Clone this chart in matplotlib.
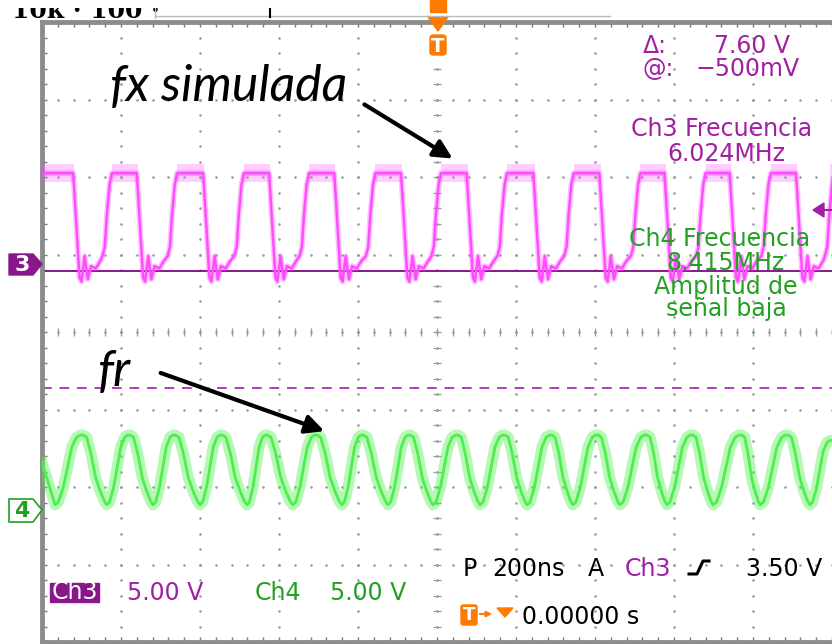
import numpy as np
import matplotlib
matplotlib.use("Agg")
from matplotlib import pyplot as plt
from matplotlib.patches import Polygon, Rectangle, FancyBboxPatch

# ---------------- datos leidos de la pantalla ----------------
# tiempo en ns (200 ns/div, disparo en 0), amplitud en divisiones (0 = centro)

# Ch3 (fx simulada): instantes de los flancos y niveles
ch3_subidas = [-833, -668, -499, -334, -166, 0, 167, 336, 505, 670, 835, 996]
ch3_bajadas = [-912, -751, -583, -416, -251, -82, 84, 253, 420, 585, 750, 918]
ch3_alto = 2.05
ch3_bajo = 0.80

# Ch4 (fr): picos y valles
ch4_picos = [-896, -777, -663, -544, -430, -304, -187, -68, 53, 172, 291, 408, 532, 648, 772, 889]
ch4_valles = [-967, -836, -719, -600, -481, -365, -241, -124, -10, 109, 228, 344, 463, 582, 699, 818, 944]
ch4_alto = -1.33
ch4_bajo = -2.23
ch4_inicio = -1.68
ch4_final = -1.40

# cursores (div)
cursor_a = 0.79
cursor_b = -0.72

# colores del osciloscopio
ROSA = "#ff4cff"
MORADO = "#a01fa3"
MORADO_OSC = "#8a168c"
VERDE = "#4def4d"
VERDE_TXT = "#22a022"
NARANJA = "#ff7a00"
GRIS = "#9a9a9a"
FS = 17


def forma_ch3():
    eventos = sorted([(t, 1) for t in ch3_subidas] + [(t, 0) for t in ch3_bajadas])
    xs, ys = [-1000], [ch3_alto]
    for t, sube in eventos:
        if sube:
            xs += [t - 14, t - 8, t - 3, t + 4, t + 10]
            ys += [ch3_bajo + 0.18, ch3_bajo + 0.3, ch3_bajo + 0.7, ch3_alto - 0.15, ch3_alto]
        else:
            xs += [t - 9, t + 7, t + 12, t + 20, t + 28, t + 36, t + 48, t + 60]
            ys += [ch3_alto, ch3_bajo - 0.1, ch3_bajo - 0.15, ch3_bajo + 0.18, ch3_bajo - 0.12,
                   ch3_bajo + 0.05, ch3_bajo + 0.02, ch3_bajo + 0.12]
    return xs, ys


def forma_ch4():
    eventos = sorted([(t, ch4_alto, 1) for t in ch4_picos] + [(t, ch4_bajo, 0) for t in ch4_valles])
    eventos.append((1000, ch4_final, 1))
    xs, ys = [-1000], [ch4_inicio]
    t0, y0 = -1000, ch4_inicio
    for t, y, pico in eventos:
        if t0 > -1000:
            if pico:
                fr, nv = [0.12, 0.3, 0.6, 0.77, 0.9], [0.04, 0.26, 0.83, 0.97, 1.0]
            else:
                fr, nv = [0.15, 0.33, 0.53, 0.73, 0.9], [0.03, 0.26, 0.61, 0.81, 0.95]
            for f, n in zip(fr, nv):
                xs.append(t0 + f * (t - t0))
                ys.append(y0 + n * (y - y0))
        xs.append(t)
        ys.append(y)
        t0, y0 = t, y
    return xs, ys


fig = plt.figure(figsize=(8.32, 6.44), dpi=100)
fig.patch.set_facecolor("white")

# pantalla del osciloscopio: 10 x 8 divisiones
ax = fig.add_axes([42 / 832, 2 / 644, 790 / 832, 620 / 644])
ax.set_xlim(-1000, 1000)
ax.set_ylim(-4, 4)
ax.set_xticks(np.arange(-1000, 1001, 40))
ax.set_yticks(np.arange(-4, 4.01, 0.2))
ax.tick_params(direction="in", length=3.5, width=1, color="#777777",
               labelleft=False, labelbottom=False, top=True, bottom=True, left=True, right=False)
for lado in ["left", "top", "bottom"]:
    ax.spines[lado].set_color("#8c8c8c")
    ax.spines[lado].set_linewidth(3.5)
ax.spines["right"].set_visible(False)

# reticula punteada
yy = np.arange(-4, 4.01, 0.2)
for xv in range(-800, 801, 200):
    ax.scatter(np.full_like(yy, xv), yy, s=3.5, color=GRIS, lw=0, zorder=1)
xx = np.arange(-1000, 1001, 40)
for yv in range(-3, 4):
    ax.scatter(xx, np.full_like(xx, yv, dtype=float), s=3.5, color=GRIS, lw=0, zorder=1)
ax.hlines(yy, -9, 9, color=GRIS, lw=0.9, zorder=1)
ax.vlines(xx, -0.05, 0.05, color=GRIS, lw=0.9, zorder=1)

# cursores
ax.axhline(cursor_a, color=MORADO_OSC, lw=1.4, zorder=2)
ax.axhline(cursor_b, color="#b03cc0", lw=1.4, ls=(0, (5, 4)), zorder=2)

# trazas
x3, y3 = forma_ch3()
ax.plot(x3, y3, color=ROSA, lw=4, alpha=0.35, zorder=3, solid_joinstyle="round")
ax.plot(x3, y3, color=ROSA, lw=1.8, zorder=4)
# ruido en la parte alta del Ch3
inicios = [-1000] + [t + 10 for t in ch3_subidas]
for a, b in zip(inicios, ch3_bajadas + [1000]):
    ax.fill_between([a, b - 6], ch3_alto - 0.12, ch3_alto + 0.12, color=ROSA, alpha=0.28, lw=0, zorder=3)
x4, y4 = forma_ch4()
ax.plot(x4, y4, color=VERDE, lw=8, alpha=0.4, zorder=3, solid_joinstyle="round")
ax.plot(x4, y4, color=VERDE, lw=2, zorder=4)

# cabecera recortada (solo se ve la parte baja del texto)
cab = fig.add_axes([0, 1 - 20 / 644, 160 / 832, 12 / 644])
cab.axis("off")
cab.set_xlim(0, 160)
cab.set_ylim(20, 8)
cab.text(12, 18, "10k · 100 · ·", fontsize=18, weight="bold", family="DejaVu Serif",
         va="baseline", clip_on=True)

# capa superior en pixeles para textos y marcadores
ov = fig.add_axes([0, 0, 1, 1], zorder=5)
ov.set_xlim(0, 832)
ov.set_ylim(644, 0)
ov.axis("off")


def txt(x, y, s, color="black", ha="left", **kw):
    ov.text(x, y, s, color=color, ha=ha, va="baseline", fontsize=FS,
            family="DejaVu Sans", **kw)


ov.plot([155, 610], [16, 16], color="#bbbbbb", lw=1)
ov.plot([155, 155], [8, 18], color="#bbbbbb", lw=1)
ov.plot([270, 270], [9, 17], color="black", lw=1.5)

# marcador de disparo arriba
ov.add_patch(Rectangle((430, 0), 16, 12, color=NARANJA))
ov.add_patch(Polygon([(428, 17), (448, 17), (438, 31)], color=NARANJA))
ov.add_patch(FancyBboxPatch((430, 35), 16, 20, boxstyle="round,pad=0,rounding_size=3", color=NARANJA))
ov.text(438, 46, "T", color="white", ha="center", va="center", fontsize=14, weight="bold")

# marcadores de canal a la izquierda
ov.add_patch(Polygon([(9, 254), (33, 254), (42, 264), (33, 275), (9, 275)], color=MORADO_OSC))
ov.text(22, 265, "3", color="white", ha="center", va="center", fontsize=16, weight="bold")
ov.add_patch(Polygon([(9, 499), (33, 499), (42, 510), (33, 522), (9, 522)], facecolor="white",
                     edgecolor=VERDE_TXT, lw=1.2))
ov.text(22, 511, "4", color=VERDE_TXT, ha="center", va="center", fontsize=16, weight="bold")

# nivel de disparo a la derecha
ov.add_patch(Polygon([(813, 210), (824, 203), (824, 217)], color=MORADO))
ov.plot([822, 832], [210, 210], color=MORADO, lw=1.5)

# medidas
txt(643, 53, "Δ:", MORADO)
txt(790, 53, "7.60 V", MORADO, ha="right")
txt(643, 76, "@:", MORADO)
txt(800, 76, "\u2212500mV", MORADO, ha="right")
txt(722, 136, "Ch3 Frecuencia", MORADO, ha="center")
txt(726, 161, "6.024MHz", MORADO, ha="center")
txt(720, 246, "Ch4 Frecuencia", VERDE_TXT, ha="center")
txt(726, 270, "8.415MHz", VERDE_TXT, ha="center")
txt(726, 294, "Amplitud de", VERDE_TXT, ha="center")
txt(726, 316, "señal baja", VERDE_TXT, ha="center")

# barra inferior
ov.add_patch(Rectangle((50, 583), 49, 19, color=MORADO_OSC))
txt(74.5, 599, "Ch3", "white", ha="center")
txt(127, 600, "5.00 V", MORADO)
txt(255, 600, "Ch4", VERDE_TXT)
txt(330, 600, "5.00 V", VERDE_TXT)
txt(463, 576, "P")
txt(492, 576, "200ns")
txt(588, 576, "A")
txt(625, 576, "Ch3", MORADO)
ov.plot([689, 697, 703, 709], [574, 574, 561, 561], color="black", lw=2.2)
txt(822, 576, "3.50 V", ha="right")
ov.add_patch(FancyBboxPatch((461, 605), 16, 20, boxstyle="round,pad=0,rounding_size=2", color=NARANJA))
ov.text(469, 615, "T", color="white", ha="center", va="center", fontsize=13, weight="bold")
ov.annotate("", xy=(495, 614), xytext=(477, 614),
            arrowprops=dict(arrowstyle="-|>", color=NARANJA, lw=1.5, mutation_scale=8))
ov.add_patch(Polygon([(497, 608), (513, 608), (505, 617)], color=NARANJA))
txt(522, 624, "0.00000 s")

# anotaciones
ov.text(110, 101, "fx simulada", fontsize=36, style="italic", family="Lato", va="baseline")
ov.annotate("", xy=(455, 160), xytext=(362, 103),
            arrowprops=dict(arrowstyle="-|>", color="black", lw=3, mutation_scale=28))
ov.text(98, 386, "fr", fontsize=36, style="italic", family="Lato", va="baseline")
ov.annotate("", xy=(327, 432), xytext=(158, 372),
            arrowprops=dict(arrowstyle="-|>", color="black", lw=3, mutation_scale=28))

fig.savefig("out.png", dpi=100)
